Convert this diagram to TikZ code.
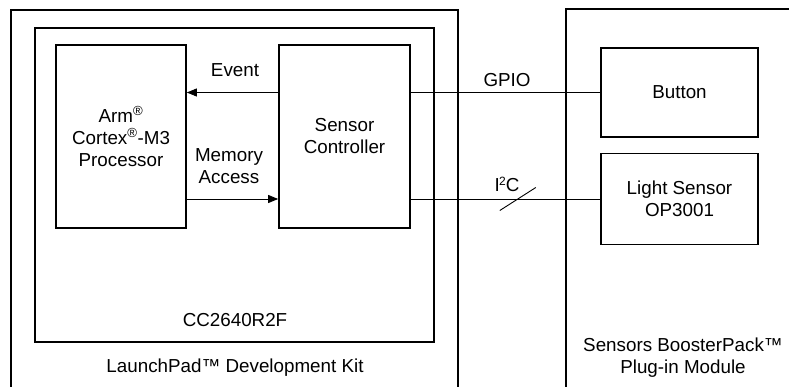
\documentclass[tikz,border=0pt]{standalone}
\usepackage{fontspec}
\setmainfont{Liberation Sans}
\usetikzlibrary{arrows.meta,calc}
\begin{document}
\begin{tikzpicture}[x=1pt, y=-1pt, >={Triangle[length=10pt,width=8pt]},
    font=\fontsize{18.8}{22}\selectfont, line join=miter,
    frame/.style={line width=1.7pt},
    block/.style={draw, line width=1.7pt, align=center, inner sep=0pt},
    wire/.style={line width=0.9pt}]
    \useasboundingbox (0,0) rectangle (789,387);
    % Kit and BoosterPack (open at the bottom)
    \draw[frame] (11,390)--(11,10)--(458,10)--(458,390);
    \draw[frame] (566,390)--(566,9)--(792,9);
    \draw[frame] (35,28) rectangle (434,342);
    \node (chip) at (235,320) {CC2640R2F};
    \node (kit) at (235,368) {LaunchPad™ Development Kit};
    \node[align=center] (bp) at (683,358) {Sensors BoosterPack™\\Plug-in Module};
    % blocks
    \node[block, minimum width=130pt, minimum height=183pt] (proc) at (121,136.5)
        {Arm\textsuperscript{®}\\Cortex\textsuperscript{®}-M3\\Processor};
    \node[block, minimum width=131pt, minimum height=183pt] (ctrl) at (344.5,136.5)
        {Sensor\\Controller};
    \node[block, minimum width=157pt, minimum height=89pt] (button) at (679.5,92.5) {Button};
    \node[block, minimum width=157pt, minimum height=91pt] (light) at (679.5,199)
        {Light Sensor\\OP3001};
    % connections
    \draw[wire,->] (ctrl.west |- button.west) -- (proc.east |- button.west);
    \draw[wire,->] (proc.east |- light.west) -- (ctrl.west |- light.west);
    \draw[wire] (ctrl.east |- button.west) -- (button.west);
    \draw[wire] (ctrl.east |- light.west) -- (light.west);
    \coordinate (bus) at ($(ctrl.east |- light.west)!0.565!(light.west)$);
    \draw[wire] ($(bus)+(-18,11.5)$) -- ($(bus)+(18,-11.5)$);
    \node (event) at (235,70) {Event};
    \node[align=center] (mem) at (229,166) {Memory\\Access};
    \node (gpio) at (507,80) {GPIO};
    \node (i2c) at (507,184) {I\kern-0.5pt\raisebox{6pt}{\fontsize{12}{12}\selectfont 2}C};
\end{tikzpicture}
\end{document}
